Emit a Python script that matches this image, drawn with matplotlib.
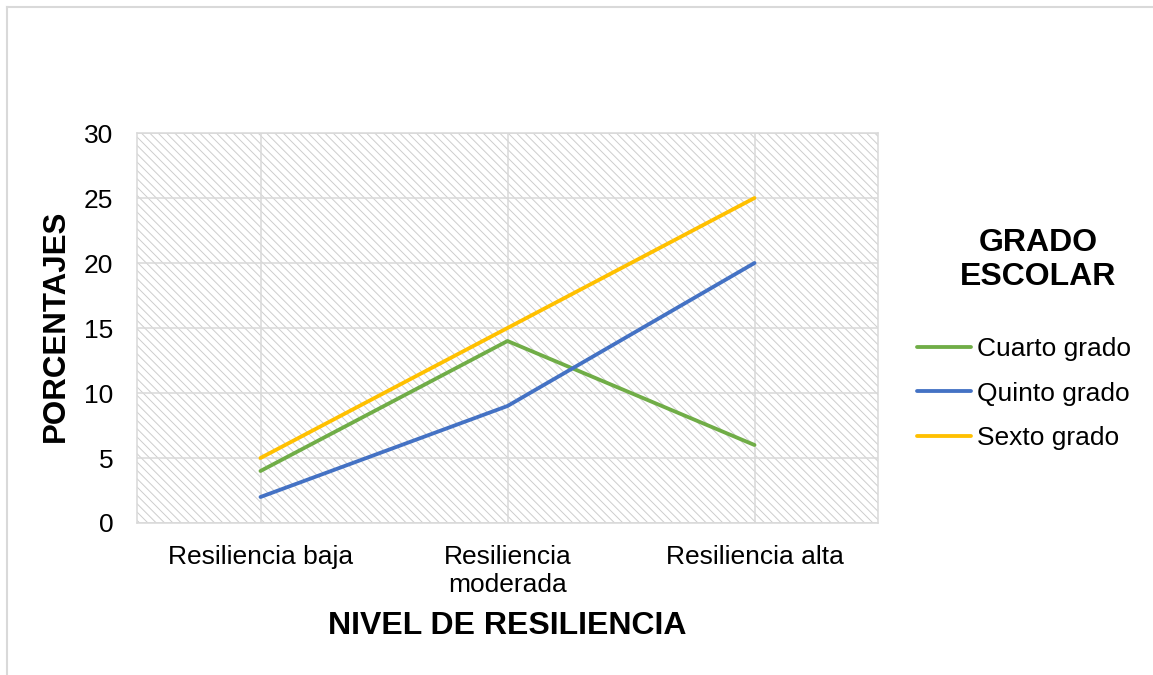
import matplotlib
matplotlib.use("Agg")
import matplotlib.pyplot as plt
from matplotlib.patches import Rectangle
from matplotlib.lines import Line2D

plt.rcParams['font.family'] = ['Liberation Sans', 'DejaVu Sans']

categories = ["Resiliencia baja", "Resiliencia\nmoderada", "Resiliencia alta"]
cuarto = [4, 14, 6]
quinto = [2, 9, 20]
sexto = [5, 15, 25]
series_names = ["Cuarto grado", "Quinto grado", "Sexto grado"]
series_colors = ["#70ad47", "#4472c4", "#ffc000"]
y_ticks = [0, 5, 10, 15, 20, 25, 30]

W, H = 1153, 675
fig = plt.figure(figsize=(W / 100, H / 100), dpi=100)
ax = fig.add_axes([137 / W, 1 - 523 / H, (878 - 137) / W, (523 - 133) / H])

# hatched plot-area background
plt.rcParams['hatch.linewidth'] = 0.7
ax.patch.set_facecolor("white")
bg = Rectangle((0, 0), 1, 1, transform=ax.transAxes, facecolor="white",
               edgecolor="#cdcdcd", linewidth=0, hatch="\\\\\\\\", zorder=0)
ax.add_patch(bg)

x = list(range(len(categories)))
for vals, name, col in zip([cuarto, quinto, sexto], series_names, series_colors):
    ax.plot(x, vals, color=col, linewidth=2.75, label=name,
            solid_capstyle="round", zorder=3)

ax.set_xlim(-0.5, len(categories) - 0.5)
ax.set_ylim(0, 30)
ax.set_yticks(y_ticks)
ax.set_xticks(x)
ax.set_xticklabels(categories, fontsize=19, linespacing=1.2)
ax.tick_params(axis="y", labelsize=19, length=0, pad=17)
ax.tick_params(axis="x", length=0, pad=16)

ax.grid(True, color="#d9d9d9", linewidth=1.1, zorder=1)
ax.set_axisbelow(True)
for s in ax.spines.values():
    s.set_color("#d9d9d9")
    s.set_linewidth(1.1)

ax.set_xlabel("NIVEL DE RESILIENCIA", fontsize=23, fontweight="bold")
ax.xaxis.set_label_coords(0.5, (523 - 626) / 390)
ax.xaxis.label.set_va("center")
ax.set_ylabel("PORCENTAJES", fontsize=22.5, fontweight="bold")
ax.yaxis.set_label_coords((56 - 137) / 741, (523 - 326) / 390)
ax.yaxis.label.set_va("center")

# legend
fig.text(1038 / W, 1 - 260 / H, "GRADO\nESCOLAR", fontsize=23, fontweight="bold",
         ha="center", va="center", linespacing=1.15)
leg = fig.legend(loc="upper left", bbox_to_anchor=(917 / W, 1 - 337 / H),
                 frameon=False, fontsize=19, handlelength=2.05,
                 handletextpad=0.23, labelspacing=0.78, borderpad=0,
                 borderaxespad=0)

# outer chart frame (left and top edges)
fig.add_artist(Line2D([6.5 / W, 6.5 / W], [0, 1 - 6.5 / H], transform=fig.transFigure,
                      color="#d9d9d9", linewidth=1.5))
fig.add_artist(Line2D([6.5 / W, 1], [1 - 6.5 / H, 1 - 6.5 / H], transform=fig.transFigure,
                      color="#d9d9d9", linewidth=1.5))

fig.savefig("out.png", dpi=100, facecolor="white")
